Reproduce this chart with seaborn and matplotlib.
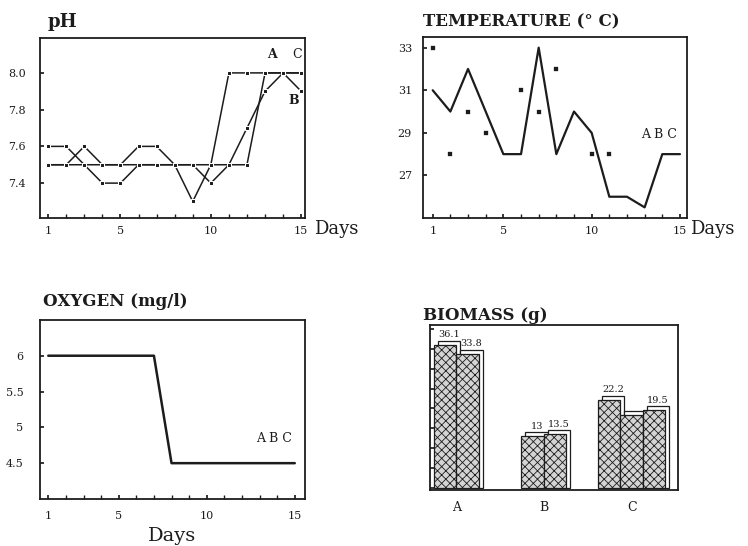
import matplotlib
matplotlib.use("Agg")
import matplotlib.pyplot as plt
import numpy as np
import pandas as pd
import seaborn as sns
from matplotlib.ticker import MultipleLocator

# --- data ---
days = list(range(1, 16))
tanks = ["A", "B", "C"]

ph_a = [7.5, 7.5, 7.6, 7.5, 7.5, 7.6, 7.6, 7.5, 7.3, 7.5, 8.0, 8.0, 8.0, 8.0, 8.0]
ph_b = [7.6, 7.6, 7.5, 7.4, 7.4, 7.5, 7.5, 7.5, 7.5, 7.4, 7.5, 7.7, 7.9, 8.0, 7.9]
ph_c = [7.5, 7.5, 7.5, 7.5, 7.5, 7.5, 7.5, 7.5, 7.5, 7.5, 7.5, 7.5, 8.0, 8.0, 8.0]

temp_line = [31, 30, 32, 30, 28, 28, 33, 28, 30, 29, 26, 26, 25.5, 28, 28]
temp_pt_days = [1, 2, 3, 4, 6, 7, 8, 10, 11]
temp_pt_vals = [33, 28, 30, 29, 31, 30, 32, 28, 28]

oxygen = [6, 6, 6, 6, 6, 6, 6, 4.5, 4.5, 4.5, 4.5, 4.5, 4.5, 4.5, 4.5]

bio_groups = ["A", "A", "B", "B", "C", "C", "C"]
bio_values = [36.1, 33.8, 13.0, 13.5, 22.2, 18.3, 19.5]
bio_labels = ["36.1", "33.8", "13", "13.5", "22.2", "", "19.5"]

# --- style ---
sns.set_theme(style="white")
plt.rcParams["font.family"] = ["DejaVu Serif"]
plt.rcParams["hatch.linewidth"] = 0.6
INK = "#1c1c1c"

fig = plt.figure(figsize=(7.48, 5.46), dpi=100)
ax_ph = fig.add_axes([0.0535, 0.6007, 0.354, 0.3297])
ax_t = fig.add_axes([0.5655, 0.6007, 0.353, 0.3315])
ax_o = fig.add_axes([0.0535, 0.0861, 0.354, 0.328])
ax_b = fig.add_axes([0.575, 0.1026, 0.3316, 0.302])


def frame(ax, ypad):
    for s in ax.spines.values():
        s.set_color(INK)
        s.set_linewidth(1.3)
    ax.xaxis.set_minor_locator(MultipleLocator(1))
    ax.set_xticks([1, 5, 10, 15])
    ax.tick_params(axis="both", which="both", direction="in", length=3,
                   color=INK, labelsize=8, labelcolor=INK)
    ax.tick_params(axis="x", which="both", bottom=True, pad=6)
    ax.tick_params(axis="y", left=True, pad=ypad)
    ax.set_xlabel("")
    ax.set_ylabel("")


# pH
ph_df = pd.DataFrame({"day": days * 3,
                      "pH": ph_a + ph_b + ph_c,
                      "tank": np.repeat(tanks, len(days))})
sns.lineplot(data=ph_df, x="day", y="pH", hue="tank", palette=[INK] * 3,
             marker="s", markersize=3, linewidth=1.1, legend=False, ax=ax_ph)
ax_ph.set_xlim(0.55, 15.2)
ax_ph.set_ylim(7.21, 8.19)
ax_ph.set_yticks([7.4, 7.6, 7.8, 8.0])
ax_ph.set_yticklabels(["7.4", "7.6", "7.8", "8.0"])
frame(ax_ph, 10)
ax_ph.text(13.4, 8.08, "A", fontsize=9, fontweight="bold", ha="center", color=INK)
ax_ph.text(14.75, 8.08, "C", fontsize=9, ha="center", color=INK)
ax_ph.text(14.6, 7.83, "B", fontsize=9, fontweight="bold", ha="center", color=INK)
ax_ph.text(0.03, 1.06, "pH", transform=ax_ph.transAxes, fontsize=13,
           fontweight="bold", color=INK)
ax_ph.text(1.035, -0.06, "Days", transform=ax_ph.transAxes, fontsize=13,
           va="center", color=INK)

# temperature
sns.lineplot(x=days, y=temp_line, color=INK, linewidth=1.6, ax=ax_t)
sns.scatterplot(x=temp_pt_days, y=temp_pt_vals, marker="s", s=8, color=INK,
                edgecolor=INK, ax=ax_t)
ax_t.set_xlim(0.45, 15.4)
ax_t.set_ylim(25.0, 33.5)
ax_t.set_yticks([27, 29, 31, 33])
frame(ax_t, 8)
ax_t.text(13.8, 28.75, "A B C", fontsize=9, ha="center", color=INK)
ax_t.text(0.0, 1.06, "TEMPERATURE (\u00b0 C)", transform=ax_t.transAxes,
          fontsize=12, fontweight="bold", color=INK)
ax_t.text(1.012, -0.06, "Days", transform=ax_t.transAxes, fontsize=13,
          va="center", color=INK)

# oxygen
sns.lineplot(x=days, y=oxygen, color=INK, linewidth=1.8, ax=ax_o)
ax_o.set_xlim(0.53, 15.57)
ax_o.set_ylim(4.0, 6.5)
ax_o.set_yticks([4.5, 5, 5.5, 6])
ax_o.set_yticklabels(["4.5", "5", "5.5", "6"])
frame(ax_o, 12)
ax_o.tick_params(axis="x", pad=9)
ax_o.text(13.8, 4.8, "A B C", fontsize=9, ha="center", color=INK)
ax_o.text(0.01, 1.08, "OXYGEN (mg/l)", transform=ax_o.transAxes,
          fontsize=12, fontweight="bold", color=INK)
ax_o.set_xlabel("Days", fontsize=14, color=INK, labelpad=4)

# biomass
group_gap = 3.9
order = ["A", "B", "C"]
xpos = []
for g in order:
    n = bio_groups.count(g)
    c = order.index(g) * group_gap
    xpos += [c + j - (n - 1) / 2 for j in range(n)]
xpos = np.array(xpos)
vals = np.array(bio_values)

sns.barplot(x=xpos + 0.18, y=vals + 1.0, native_scale=True, width=1.0,
            color="white", saturation=1, edgecolor=INK, linewidth=0.9, ax=ax_b)
sns.barplot(x=xpos, y=vals, native_scale=True, width=1.0, color="#d4d4d4",
            saturation=1, edgecolor=INK, linewidth=0.9, hatch="xxxx", ax=ax_b)
ax_b.bar_label(ax_b.containers[0], labels=bio_labels, padding=1, fontsize=7,
               color=INK)
ax_b.set_xlim(-1.16, 9.87)
ax_b.set_ylim(-0.6, 41)
ax_b.set_xticks([order.index(g) * group_gap for g in order])
ax_b.set_xticklabels(order)
ax_b.set_yticks(range(0, 41, 5))
ax_b.set_yticklabels([])
for s in ax_b.spines.values():
    s.set_color(INK)
    s.set_linewidth(1.3)
ax_b.tick_params(axis="x", length=0, pad=8, labelsize=9, labelcolor=INK)
ax_b.tick_params(axis="y", left=True, direction="in", length=3, color=INK)
ax_b.set_xlabel("")
ax_b.set_ylabel("")
ax_b.text(-0.03, 1.03, "BIOMASS (g)", transform=ax_b.transAxes,
          fontsize=12, fontweight="bold", color=INK)

fig.savefig("out.png", dpi=100)
